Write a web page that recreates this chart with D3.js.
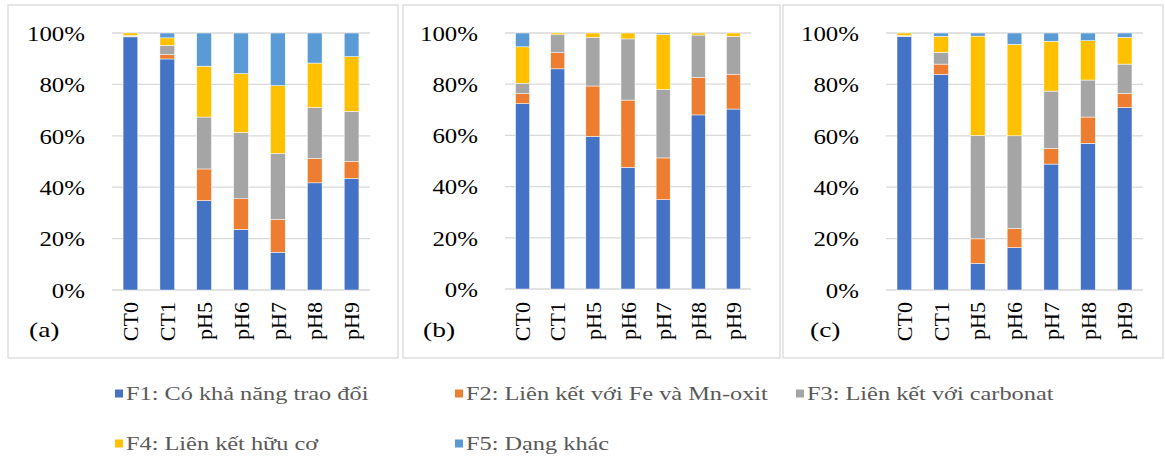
<!DOCTYPE html>
<html>
  <head>
    <title>Phân đoạn</title>
    <script src="https://d3js.org/d3.v7.min.js"></script>
    <style>
      body { margin: 0; background: #fff; }
      svg text { font-family: "Liberation Serif", "DejaVu Serif", "Times New Roman", serif; }
      .grid line { stroke: #d9d9d9; stroke-width: 1.3px; }
      .tick-y { font-size: 22px; fill: #000; text-anchor: end; }
      .tick-x { font-size: 22px; fill: #000; text-anchor: end; }
      .panel-label { font-size: 22px; fill: #000; }
      .legend text { font-size: 19px; fill: #595959; }
      .frame { fill: none; stroke: #d9d9d9; stroke-width: 1.3px; }
    </style>
  </head>
  <body>
    <svg width="1165" height="460"></svg>
    <script>
      const categories = ["CT0", "CT1", "pH5", "pH6", "pH7", "pH8", "pH9"];
      const seriesNames = [
        "F1: Có khả năng trao đổi",
        "F2: Liên kết với Fe và Mn-oxit",
        "F3: Liên kết với carbonat",
        "F4: Liên kết hữu cơ",
        "F5: Dạng khác"
      ];
      const yTicks = [0, 0.2, 0.4, 0.6, 0.8, 1];

      // percentages per category, one array per fraction
      const panelA = {
        F1: [98.5, 89.9, 34.8, 23.6, 14.7, 41.7, 43.4],
        F2: [0.2, 1.7, 12.3, 11.9, 12.7, 9.5, 6.7],
        F3: [0.3, 3.6, 20.2, 25.8, 25.7, 19.8, 19.4],
        F4: [1.0, 2.9, 19.8, 22.9, 26.4, 17.3, 21.3],
        F5: [0.0, 1.9, 12.9, 15.8, 20.5, 11.7, 9.2]
      };
      const panelB = {
        F1: [72.4, 86.0, 59.6, 47.5, 34.9, 68.0, 70.3],
        F2: [3.9, 6.3, 19.7, 26.3, 16.3, 14.6, 13.6],
        F3: [4.1, 7.0, 19.0, 23.9, 26.7, 16.6, 14.8],
        F4: [14.2, 0.7, 1.7, 2.3, 21.6, 0.8, 1.3],
        F5: [5.4, 0.0, 0.0, 0.0, 0.5, 0.0, 0.0]
      };
      const panelC = {
        F1: [98.6, 83.9, 10.3, 16.5, 49.0, 57.1, 71.0],
        F2: [0.1, 4.0, 9.6, 7.4, 6.1, 10.2, 5.5],
        F3: [0.3, 4.6, 40.2, 36.1, 22.3, 14.4, 11.4],
        F4: [1.0, 6.2, 38.7, 35.6, 19.4, 15.3, 10.4],
        F5: [0.0, 1.3, 1.2, 4.4, 3.2, 3.0, 1.7]
      };
      const keys = ["F1", "F2", "F3", "F4", "F5"];
      const colors = ["#4472C4", "#ED7D31", "#A5A5A5", "#FFC000", "#5B9BD5"];

      const svg = d3.select("svg");

      const panels = [
        {data: panelA, label: "(a)", frame: [8, 5, 398, 358], plot: [112, 370], y: [33, 290], labelX: 29},
        {data: panelB, label: "(b)", frame: [403, 5, 780, 358], plot: [505, 751], y: [33, 289], labelX: 423},
        {data: panelC, label: "(c)", frame: [783, 5, 1163, 358], plot: [886, 1143], y: [33, 290], labelX: 810}
      ];

      const color = d3.scaleOrdinal().domain(keys).range(colors);

      panels.forEach(p => {
        const g = svg.append("g");
        g.append("rect").attr("class", "frame")
          .attr("x", p.frame[0]).attr("y", p.frame[1])
          .attr("width", p.frame[2] - p.frame[0]).attr("height", p.frame[3] - p.frame[1]);

        const x = d3.scaleBand().domain(categories).range(p.plot).paddingInner(0.6).paddingOuter(0.3);
        const y = d3.scaleLinear().domain([0, 1]).range([p.y[1], p.y[0]]);

        const grid = g.append("g").attr("class", "grid");
        grid.selectAll("line").data(yTicks).join("line")
          .attr("x1", p.plot[0]).attr("x2", p.plot[1])
          .attr("y1", d => y(d)).attr("y2", d => y(d));

        // the source image is stretched sideways, so the text is too
        g.selectAll(".tick-y").data(yTicks).join("text")
          .attr("class", "tick-y")
          .attr("transform", d => `translate(${p.plot[0] - 27}, ${y(d)}) scale(1.13, 1)`)
          .attr("dy", "0.35em")
          .text(d3.format(".0%"));

        const rows = categories.map((c, i) => {
          const r = {cat: c};
          keys.forEach(k => r[k] = p.data[k][i] / 100);
          return r;
        });
        const stacked = d3.stack().keys(keys)(rows);

        g.selectAll(".series").data(stacked).join("g")
          .attr("fill", d => color(d.key))
          .selectAll("rect").data(d => d).join("rect")
            .attr("x", d => x(d.data.cat))
            .attr("width", x.bandwidth())
            .attr("y", d => y(d[1]))
            .attr("height", d => Math.max(0, y(d[0]) - y(d[1])))
            .attr("stroke", "#fff").attr("stroke-width", 0.5);

        g.selectAll(".tick-x").data(categories).join("text")
          .attr("class", "tick-x")
          .attr("transform", d => `translate(${x(d) + x.bandwidth() / 2}, 302) rotate(-90)`)
          .attr("dy", "0.35em")
          .text(d => d);

        g.append("text").attr("class", "panel-label")
          .attr("transform", `translate(${p.labelX}, 337) scale(1.25, 1)`)
          .text(p.label);
      });

      // legend
      const legendPos = [[115, 393.5], [455, 393.5], [796, 393.5], [115, 443.5], [455, 443.5]];
      const legend = svg.append("g").attr("class", "legend");
      const items = legend.selectAll("g").data(keys).join("g")
        .attr("transform", (d, i) => `translate(${legendPos[i][0]}, ${legendPos[i][1]})`);
      items.append("rect").attr("x", 0).attr("y", -4).attr("width", 8).attr("height", 8)
        .attr("fill", d => color(d));
      items.append("text")
        .attr("transform", "translate(11, 0) scale(1.28, 1)")
        .attr("dy", "0.35em")
        .text((d, i) => seriesNames[i]);
    </script>
  </body>
</html>
